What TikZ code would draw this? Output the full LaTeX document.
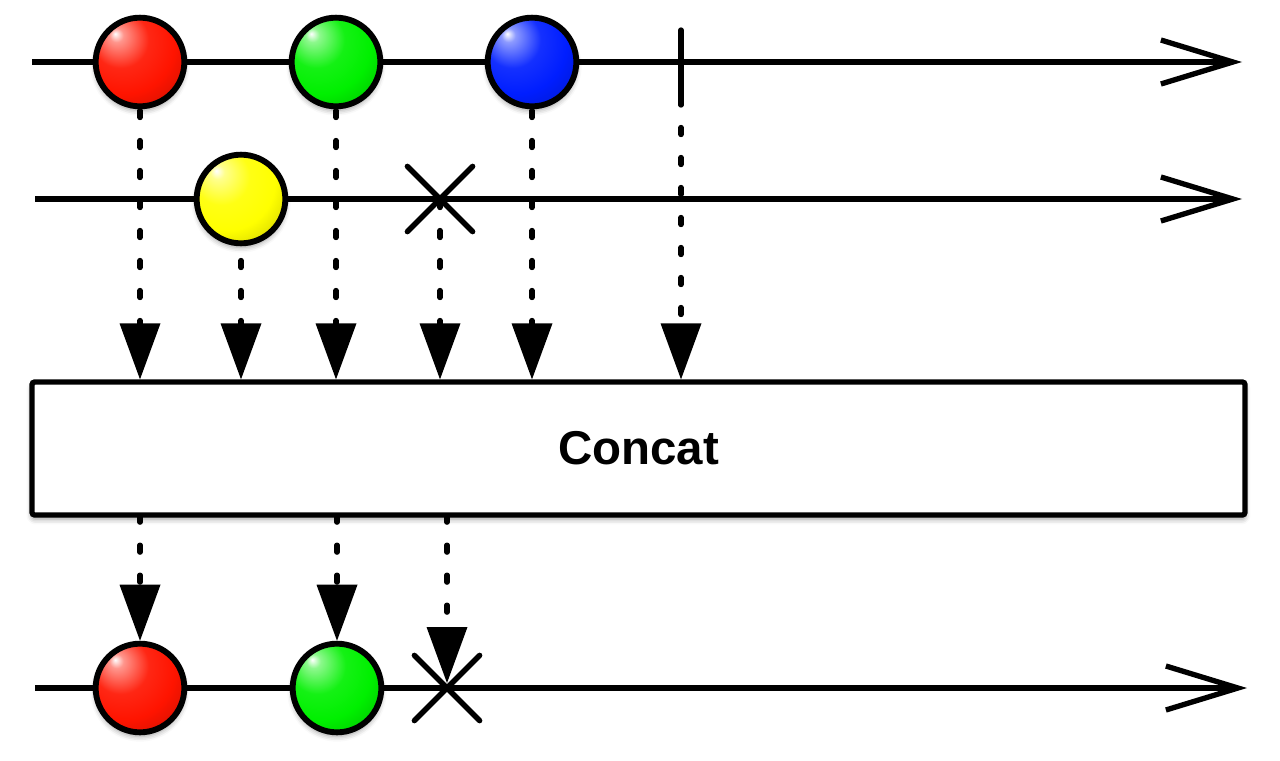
\documentclass[tikz,border=0pt]{standalone}
\usepackage{fontspec}
\setmainfont{Liberation Sans}
\usetikzlibrary{arrows.meta,shapes.misc,backgrounds,shadows.blur}
\definecolor{mred}{RGB}{255,20,0}
\definecolor{mgreen}{RGB}{0,240,0}
\definecolor{mblue}{RGB}{0,30,255}
\definecolor{myellow}{RGB}{255,255,0}
\colorlet{mcol}{red}
\pgfdeclareradialshading[mcol]{marbleshade}{\pgfpoint{-14bp}{16bp}}{%
  color(0bp)=(white);
  color(4bp)=(mcol!45!white);
  color(16bp)=(mcol!92!white);
  color(28bp)=(mcol);
  color(42bp)=(mcol!80!black);
  color(62bp)=(mcol!52!black);
  color(75bp)=(mcol!45!black)}
\tikzset{
  shad/.style={blur shadow={shadow xshift=0pt,shadow yshift=-3pt,shadow blur radius=4pt,shadow opacity=40}},
  marble/.style={circle,draw=black,line width=4.4pt,minimum size=66.5pt,inner sep=0pt,
    /utils/exec={\colorlet{mcol}{#1}},shading=marbleshade,shad},
  timeline/.style={line width=4pt,-{Straight Barb[length=54pt,width=33pt]}},
  xmark/.style={cross out,draw=black,line width=4pt,line cap=round,minimum size=45pt,inner sep=0pt},
  dots/.style={line width=4pt,line cap=round,dash pattern=on 5.25pt off 17.25pt,dash phase=#1,
    -{Triangle[length=42pt,width=30.75pt,line width=0pt]}},
  opbox/.style={draw=black,fill=white,line width=4pt,rounded corners=2pt,minimum width=909.75pt,
    minimum height=99.75pt,inner sep=0pt,shad,font=\bfseries\fontsize{35.6}{40}\selectfont}
}
\begin{document}
\begin{tikzpicture}[x=0.75pt,y=-0.75pt]
\useasboundingbox (0,0) rectangle (1280,760);
% timeline endpoints
\coordinate (s1) at (32,62);   \coordinate (e1) at (1242,62);
\coordinate (s2) at (35,199);  \coordinate (e2) at (1242,199);
\coordinate (s3) at (35,688);  \coordinate (e3) at (1247,688);
\coordinate (done) at (681,62);
\coordinate (donetop) at (681,30); \coordinate (donebot) at (681,105);
% operator box
\node[opbox] (box) at (638.5,448.5) {Concat};
% marbles
\node[marble=mred] (r1) at (140,62) {};
\node[marble=mgreen] (g1) at (336,62) {};
\node[marble=mblue] (b1) at (532,62) {};
\node[marble=myellow] (y2) at (241,199) {};
\node[xmark] (x2) at (440,199) {};
\node[marble=mred] (r3) at (140,688) {};
\node[marble=mgreen] (g3) at (337,688) {};
\node[xmark] (x3) at (447,688) {};
\begin{pgfonlayer}{background}
  \draw[timeline] (s1) -- (e1);
  \draw[timeline] (s2) -- (e2);
  \draw[timeline] (s3) -- (e3);
  \draw[line width=4pt,line cap=round] (donetop) -- (donebot);
  % dotted connectors into the operator
  \draw[dots=8.625pt] (r1.center) -- (box.north -| r1);
  \draw[dots=8.625pt] (g1.center) -- (box.north -| g1);
  \draw[dots=8.625pt] (b1.center) -- (box.north -| b1);
  \draw[dots=18.375pt] (done) -- (box.north -| done);
  \draw[dots=21.375pt] (y2.center) -- (box.north -| y2);
  \draw[dots=21.375pt] (x2.center) -- (box.north -| x2);
  % dotted connectors out of the operator
  \draw[dots=1.875pt] (box.south -| r3) -- (r3.north);
  \draw[dots=1.875pt] (box.south -| g3) -- (g3.north);
  \draw[dots=1.875pt,shorten >=3.75pt] (box.south -| x3) -- (x3.center);
\end{pgfonlayer}
\end{tikzpicture}
\end{document}
